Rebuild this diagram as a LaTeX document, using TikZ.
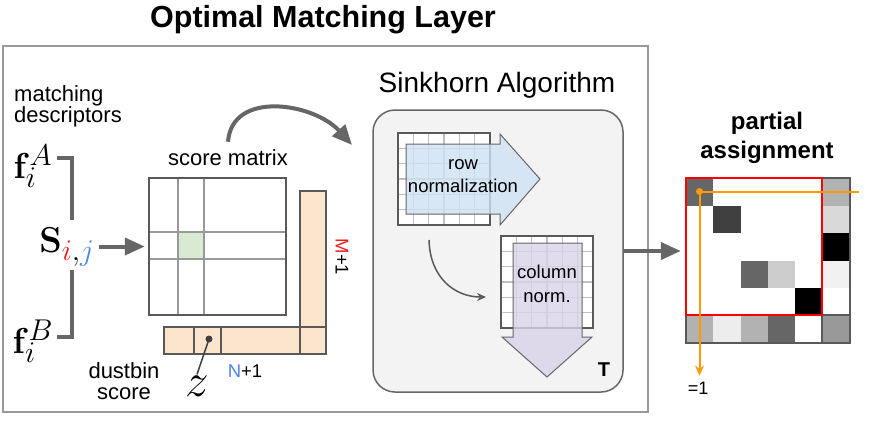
\documentclass[tikz,border=0pt]{standalone}
\usepackage[no-math]{fontspec}
\setmainfont{Liberation Sans}
\usetikzlibrary{arrows.meta}

\definecolor{dustfill}{HTML}{FCE5CD}
\definecolor{cellgreen}{HTML}{D9EAD3}
\definecolor{rowblue}{HTML}{CFE2F3}
\definecolor{colpurple}{HTML}{D9D2E9}
\definecolor{sinkbg}{HTML}{F3F3F3}
\definecolor{pickorange}{HTML}{FF9900}
\definecolor{idxred}{HTML}{F01E1E}
\definecolor{idxblue}{HTML}{4A86E8}

\tikzset{
  txt/.style={inner sep=0pt, align=center, font=\fontsize{22}{21}\selectfont},
  small/.style={inner sep=0pt, align=center, font=\fontsize{18.5}{24}\selectfont},
  boldtxt/.style={inner sep=0pt, align=center, font=\bfseries\fontsize{24}{29}\selectfont},
  mathlbl/.style={inner sep=0pt, font=\Huge, scale=1.45, transform shape},
  heavy/.style={line width=4pt, draw=black!60, -{Triangle[length=20pt,width=17pt]}},
  bracket/.style={line width=4pt, draw=black!60},
  matline/.style={line width=2pt, draw=black!40},
  matbox/.style={draw=black!65, line width=2.5pt, inner sep=0pt},
  dustbin/.style={draw=black!65, line width=2.5pt, fill=dustfill},
  gridline/.style={draw=black!25, line width=1.5pt},
  gridbox/.style={draw=black!65, line width=2pt},
  normarrow/.style={draw=black!60, line width=1pt, fill opacity=0.8},
  sinkbox/.style={draw=black!60, line width=1.5pt, fill=sinkbg, rounded corners=22pt, inner sep=0pt},
  pick/.style={draw=pickorange, line width=2pt}
}

\begin{document}
\begin{tikzpicture}[x=1pt, y=-1pt]
\useasboundingbox (0,0) rectangle (877,432);

% Outer frame of the layer and its title
\draw[black!40, line width=2.5pt] (3,46) rectangle (648,412);
\node[inner sep=0pt, font=\bfseries\fontsize{30.5}{30}\selectfont] (title) at (323,20) {Optimal Matching Layer};

% Descriptors and the score between them
\node[txt, anchor=west, align=left] (desc) at (14,106) {matching\\descriptors};
\node[mathlbl] (fA) at (33,166) {$\mathbf{f}_i^A$};
\node[mathlbl] (fB) at (33,341) {$\mathbf{f}_i^B$};
\node[mathlbl] (Sij) at (67,247) {$\mathbf{S}_{\textcolor{idxred}{i},\textcolor{idxblue}{j}}$};
\draw[bracket] (57,158) -| (72,220);
\draw[bracket] (72,270) |- (57,337);

% Score matrix with the highlighted cell
\fill[cellgreen] (178,232) rectangle (204,259);
\draw[matline] (178,178) -- (178,315);
\draw[matline] (204,178) -- (204,315);
\draw[matline] (149,232) -- (286,232);
\draw[matline] (149,259) -- (286,259);
\node[matbox, minimum width=137pt, minimum height=137pt] (score) at (217.5,246.5) {};
\node[txt] (scorelbl) at (228,158) {score matrix};
\draw[heavy, shorten <=4pt, shorten >=3pt] (Sij.east |- score.west) -- (score.west);

% Dustbin row and column
\draw[dustbin] (300,191) rectangle (326,327);
\draw[dustbin] (164,327) rectangle (326,354);
\foreach \xx in {194,221,300}
  \draw[black!65, line width=2.5pt] (\xx,327) -- (\xx,354);
\coordinate (zdot) at (209,339);
\fill[black!75] (zdot) circle (3.5pt);
\node[inner sep=0pt, font=\Huge, scale=1.9, transform shape] (z) at (197,386) {$z$};
\draw[black!75, line width=1.5pt] (zdot) -- ([yshift=1pt]z.north);
\node[small] (ncount) at (245,371) {\textcolor{idxblue}{N}+1};
\node[small, rotate=-90] (mcount) at (342,257) {\textcolor{idxred}{M}+1};
\node[txt] (dustlbl) at (124,381) {dustbin\\score};

% Sinkhorn block
\node[inner sep=0pt, font=\fontsize{28}{28}\selectfont] (sinktitle) at (497,85) {Sinkhorn Algorithm};
\node[sinkbox, minimum width=250pt, minimum height=282pt] (sink) at (498,251) {};
\coordinate (sinkin) at (352,145);
\draw[heavy] ([yshift=8pt]scorelbl.north) .. controls +(4,-52) and +(-38,-42) .. (sinkin);

% row normalization
\fill[white] (398,133) rectangle (490,225);
\foreach \k in {1,...,5} {
  \draw[gridline] ({398+\k*92/6},133) -- ++(0,92);
  \draw[gridline] (398,{133+\k*92/6}) -- ++(92,0);
}
\draw[gridbox] (398,133) rectangle (490,225);
\draw[normarrow, fill=rowblue] (406,144) -- (500,144) -- (500,134) -- (540,179) -- (500,225) -- (500,214) -- (406,214) -- cycle;
\node[small, align=center, font=\fontsize{18.5}{23}\selectfont] (rownorm) at (463,176) {row\\normalization};

% column normalization
\fill[white] (501,236) rectangle (593,328);
\foreach \k in {1,...,5} {
  \draw[gridline] ({501+\k*92/6},236) -- ++(0,92);
  \draw[gridline] (501,{236+\k*92/6}) -- ++(92,0);
}
\draw[gridbox] (501,236) rectangle (593,328);
\draw[normarrow, fill=colpurple] (513,243) -- (582,243) -- (582,337) -- (592,337) -- (547,377) -- (502,337) -- (513,337) -- cycle;
\node[small, font=\fontsize{18.5}{24}\selectfont] (colnorm) at (547,284) {column\\norm.};
\draw[black!65, line width=1.5pt, -{Stealth[length=9pt,width=8pt]}] (429,240) .. controls (430,278) and (455,297) .. (486,297);
\node[inner sep=0pt, font=\bfseries\fontsize{20}{20}\selectfont] (iters) at (604,370) {T};

% Partial assignment matrix
\node[boldtxt] (assignlbl) at (767,138) {partial\\assignment};
\foreach \c/\r/\g in {0/0/60, 1/1/75, 2/3/60, 3/3/20, 4/4/100, 5/0/30, 5/1/15, 5/2/100, 5/3/6, 0/5/30, 1/5/7, 2/5/30, 3/5/60, 5/5/40}
  \fill[black!\g] ({686+\c*27.33},{178+\r*27.5}) rectangle ++(27.33,27.5);
\draw[black!65, line width=2.5pt] (822,178) -- (822,343);
\draw[black!65, line width=2.5pt] (686,315) -- (850,315);
\node[matbox, minimum width=164pt, minimum height=165pt] (assign) at (768,260.5) {};
\draw[red, line width=2.5pt] (686,178) rectangle (822,315);
\draw[heavy, shorten >=4pt] (sink.east) -- (sink.east -| assign.west);

% Row sum picked out in orange
\node[inner sep=0pt, font=\fontsize{18}{18}\selectfont] (one) at (698,388) {=1};
\coordinate (pickcell) at (699.5,191.5);
\fill[pickorange] (pickcell) circle (3.5pt);
\draw[pick] (pickcell) -- (859,191.5);
\draw[pick, -{Stealth[length=10pt,width=9pt]}] (pickcell) -- ([yshift=6pt]pickcell |- one.north);

\end{tikzpicture}
\end{document}
